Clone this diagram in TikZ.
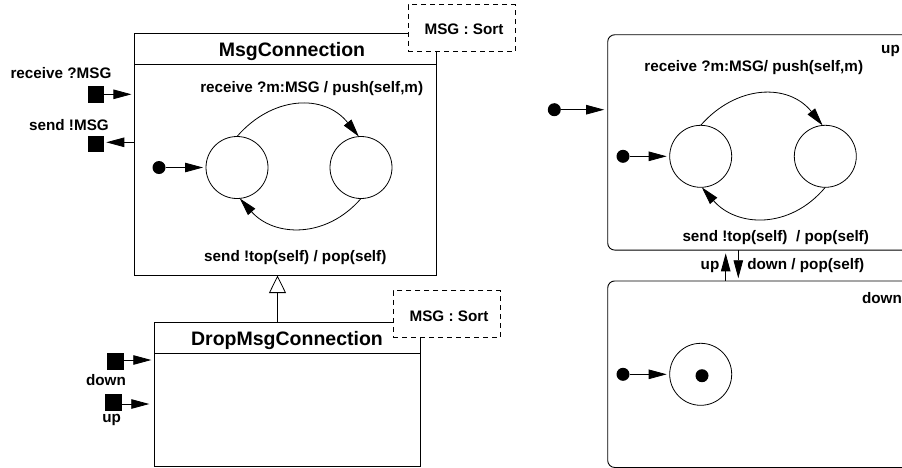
\documentclass[tikz,border=0pt]{standalone}
\usepackage{fontspec}
\setmainfont{Liberation Sans}
\usetikzlibrary{arrows.meta,calc}
\tikzset{
  every node/.style={inner sep=0pt,outer sep=0pt},
  lbl/.style={font=\fontsize{15.25}{17}\selectfont\bfseries,text height=11pt,text depth=0pt},
  ttl/.style={font=\fontsize{19.5}{22}\selectfont\bfseries,text height=14pt,text depth=0pt},
  cls/.style={draw,fill=white,line width=0.9pt},
  note/.style={draw,dashed,dash pattern=on 5pt off 4pt,fill=white,line width=0.8pt,minimum width=107pt,minimum height=47pt},
  region/.style={draw,rounded corners=7pt,line width=0.9pt},
  portbox/.style={fill=black,minimum size=16.5pt},
  startdot/.style={circle,fill=black,minimum size=13pt},
  stateb/.style={circle,draw,line width=0.8pt,minimum size=62pt},
  arr/.style={line width=0.8pt,-{Triangle[length=18pt,width=9.5pt]}},
  inherit/.style={line width=0.8pt,-{Triangle[open,fill=white,length=17.5pt,width=17pt]}}
}
\begin{document}
\begin{tikzpicture}[x=1pt,y=-1pt]
\clip (0,0) rectangle (902,467);
% MsgConnection
\node[cls,minimum width=301.5pt,minimum height=242pt] (mc) at (285.2,154.5) {};
\draw[line width=0.9pt] ($(mc.north west)+(0,31)$) coordinate (mcl) -- (mcl -| mc.east);
\node[ttl] (mct) at (292,49.3) {MsgConnection};
\node[note] (n1) at (461.5,28.3) {};
\node[lbl] (n1t) at (464,28.8) {MSG : Sort};
\node[portbox] (p1) at (96,94.3) {};
\node[portbox] (p2) at (96,144) {};
\node[lbl] (p1t) at (61,73) {receive ?MSG};
\node[lbl] (p2t) at (69,125) {send !MSG};
\draw[arr,shorten >=3pt] (p1) -- (p1 -| mc.west);
\draw[arr,shorten >=2pt] (mc.west |- 0,142.3) coordinate (s2) -- (s2 -| p2.east);
\node[stateb] (a1) at (237,167.5) {};
\node[stateb] (a2) at (361,167.5) {};
\node[startdot] (a0) at (159,167.5) {};
\draw[arr,shorten >=3pt] (a0) -- (a1);
\draw[arr] (a1.90) .. controls (272,96) and (324,93) .. (a2.94);
\draw[arr] (a2.-90) .. controls (326,239) and (274,237) .. (a1.-85);
\node[lbl] (mcl1) at (311.7,86.5) {receive ?m:MSG / push(self,m)};
\node[lbl] (mcl2) at (295.3,256) {send !top(self) / pop(self)};
% DropMsgConnection
\node[cls,minimum width=266.2pt,minimum height=144pt] (dm) at (287.4,394.3) {};
\draw[line width=0.9pt] ($(dm.north west)+(0,31)$) coordinate (dml) -- (dml -| dm.east);
\draw[inherit] (dm.north -| 277.5,0) coordinate (ia) -- (mc.south -| ia);
\node[ttl] (dmt) at (287,338.7) {DropMsgConnection};
\node[note] (n2) at (446.8,314.3) {};
\node[lbl] (n2t) at (449,316) {MSG : Sort};
\node[portbox] (p3) at (115.5,361.5) {};
\node[portbox] (p4) at (113.3,402.7) {};
\node[lbl] (p3t) at (106,379.5) {down};
\node[lbl] (p4t) at (111.7,417) {up};
\draw[arr,shorten >=3pt] (p3.east |- 0,360) coordinate (s3) -- (s3 -| dm.west);
\draw[arr,shorten >=5pt] (p4.east |- 0,404) coordinate (s4) -- (s4 -| dm.west);
% Right: up region
\node[region,minimum width=340pt,minimum height=215.3pt] (up) at (777.7,142.4) {};
\node[lbl] (upt) at (890.5,48) {up};
\node[lbl] (upl1) at (753.8,65.7) {receive ?m:MSG/ push(self,m)};
\node[lbl] (upl2) at (775.7,236) {send !top(self) \ / pop(self)};
\node[startdot] (b0) at (554.3,109.7) {};
\draw[arr,shorten >=3.5pt] (b0) -- (b0 -| up.west);
\node[stateb] (b1) at (700.7,156.3) {};
\node[stateb] (b2) at (825.3,156.3) {};
\node[startdot] (b3) at (623,156.3) {};
\draw[arr,shorten >=3pt] (b3) -- (b1);
\draw[arr] (b1.90) .. controls (736,85) and (788,82.5) .. (b2.95);
\draw[arr] (b2.-90) .. controls (790,229.5) and (737,227.5) .. (b1.-88);
% Right: down region
\node[region,minimum width=340pt,minimum height=186.5pt] (dn) at (777.7,374.2) {};
\node[lbl] (dnt) at (882,298.3) {down};
\node[startdot] (c0) at (623,374.3) {};
\node[stateb] (c1) at (700.7,374.3) {};
\node[startdot] (c2) at (702,375.7) {};
\draw[arr,shorten >=3pt] (c0) -- (c1);
% Transitions between regions
\draw[arr] (dn.north -| 725.7,0) coordinate (t1) -- ($(t1 |- up.south)+(0,3.3)$);
\draw[arr] (up.south -| 738.3,0) coordinate (t2) -- ($(t2 |- dn.north)+(0,-2.7)$);
\node[lbl] (t1t) at (710,263.5) {up};
\node[lbl] (t2t) at (805.8,264.3) {down / pop(self)};
\end{tikzpicture}
\end{document}
